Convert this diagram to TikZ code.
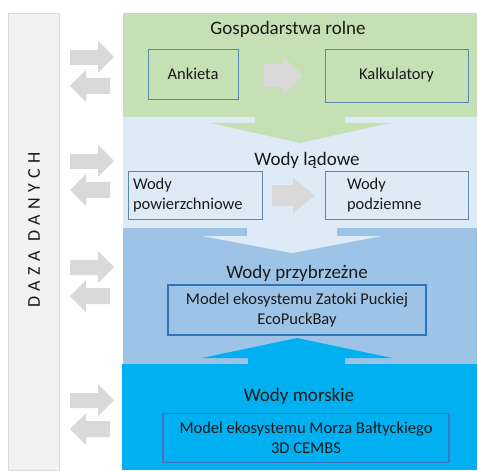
\documentclass[tikz,border=0pt]{standalone}
\usepackage{fontspec}
\setmainfont{Carlito}
\usetikzlibrary{positioning}
\definecolor{rolnegreen}{HTML}{C5E0B4}
\definecolor{ladblue}{HTML}{DEEBF7}
\definecolor{przyblue}{HTML}{9DC3E6}
\definecolor{morcyan}{HTML}{00B0F0}
\definecolor{barfill}{HTML}{F2F2F2}
\definecolor{bargray}{HTML}{D9D9D9}
\definecolor{arrowgray}{HTML}{D9D9D9}
\definecolor{edgeblue}{HTML}{5B86AE}
\definecolor{boxblue}{HTML}{2E75B6}
\definecolor{morzeblue}{HTML}{4472C4}
\definecolor{txtgray}{HTML}{1A1A1A}

\begin{document}
\begin{tikzpicture}[x=1pt,y=-1pt,
      band/.style={inner sep=0pt,outer sep=0pt},
      title/.style={font=\fontsize{19}{23}\selectfont,text=txtgray,inner sep=0pt},
      smallbox/.style={draw=edgeblue,line width=0.8pt,font=\fontsize{16.5}{20}\selectfont,text=txtgray},
      modelbox/.style={draw=boxblue,line width=1.5pt,font=\fontsize{16.5}{20}\selectfont,text=txtgray,align=center},
    ]
        \useasboundingbox (0,0) rectangle (478,470);
        \fill[white] (0,0) rectangle (478,470);

        \node[draw=bargray,fill=barfill,minimum width=51pt,minimum height=457pt] (baza) at (33.5,241.5) {};
        \node[rotate=90,text=txtgray,font=\fontsize{18}{22}\selectfont\addfontfeature{LetterSpace=30}] (bazatxt) at (34,230) {DAZA DANYCH};

        \node[band,fill=rolnegreen,minimum width=354pt,minimum height=104pt] (rolne) at (300,65) {};
        \node[band,fill=ladblue,minimum width=354pt,minimum height=111pt] (lad) at (300,172.5) {};
        \node[band,fill=przyblue,minimum width=354pt,minimum height=136pt] (przy) at (300,296) {};
        \node[band,fill=morcyan,minimum width=355pt,minimum height=106pt] (mor) at (299.5,417) {};

        \fill[rolnegreen] (255,110) -- (255,123) -- (210,123) -- (300,143) -- (390,123) -- (345,123) -- (345,110) -- cycle;
        \fill[ladblue] (247,222) -- (247,236) -- (202,236) -- (292,253) -- (382,236) -- (337,236) -- (337,222) -- cycle;
        \fill[morcyan] (248,370) -- (248,358) -- (202,358) -- (297,338) -- (392,358) -- (345,358) -- (345,370) -- cycle;

        \foreach \t in {41,145,251,384} {
            \fill[arrowgray] (70,\t+9) -- (98,\t+9) -- (98,\t) -- (114,\t+16) -- (98,\t+32) -- (98,\t+24) -- (70,\t+24) -- cycle;
            \fill[arrowgray] (110,\t+37) -- (86,\t+37) -- (86,\t+29) -- (70,\t+45) -- (86,\t+61) -- (86,\t+53) -- (110,\t+53) -- cycle;
        }

        \fill[arrowgray] (264,64) -- (283,64) -- (283,56) -- (303,75.5) -- (283,95) -- (283,87) -- (264,87) -- cycle;
        \fill[arrowgray] (272,185) -- (293,185) -- (293,178) -- (315,195.5) -- (293,213) -- (293,206) -- (272,206) -- cycle;

        \node[title] (rolnetxt) at (288,29) {Gospodarstwa rolne};
        \node[smallbox,minimum width=90pt,minimum height=50pt] (ankieta) at (193,74) {Ankieta};
        \node[smallbox,minimum width=143pt,minimum height=53pt] (kalk) at (396.5,75.5) {Kalkulatory};

        \node[title] (ladtxt) at (307,160) {Wody lądowe};
        \node[smallbox,minimum width=134pt,minimum height=48pt,inner xsep=5pt,text width=124pt,align=left] (powierz) at (195,195) {Wody\\powierzchniowe};
        \node[smallbox,minimum width=143pt,minimum height=48pt,inner xsep=22pt,text width=99pt,align=left] (podziem) at (396.5,195) {Wody\\podziemne};

        \node[title] (przytxt) at (297,273) {Wody przybrzeżne};
        \node[modelbox,minimum width=258pt,minimum height=50pt] (zatoka) at (297,310) {Model ekosystemu Zatoki Puckiej\\EcoPuckBay};

        \node[title] (mortxt) at (299,396) {Wody morskie};
        \node[modelbox,draw=morzeblue,minimum width=286pt,minimum height=49pt] (baltyk) at (306,438) {Model ekosystemu Morza Bałtyckiego\\3D CEMBS};
    \end{tikzpicture}
\end{document}
